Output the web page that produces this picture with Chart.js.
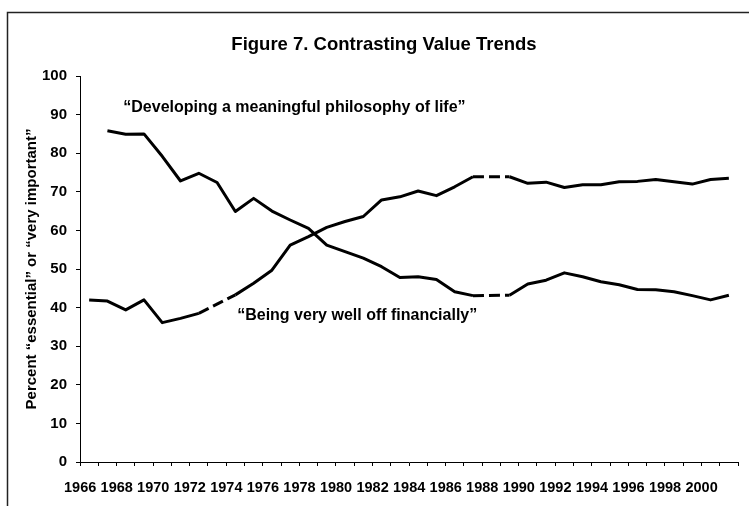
<!DOCTYPE html>
<html>
<head>
<meta charset="utf-8">
<script src="https://cdn.jsdelivr.net/npm/chart.js@4.4.1/dist/chart.umd.min.js"></script>
<style>
  html, body { margin: 0; padding: 0; background: #fff; }
  #wrap { position: relative; width: 749px; height: 506px; }
</style>
</head>
<body>
<div id="wrap"><canvas id="chart" width="749" height="506"></canvas></div>
<script>
const years = [
  1966, 1967, 1968, 1969, 1970, 1971, 1972, 1973, 1974, 1975, 1976, 1977,
  1978, 1979, 1980, 1981, 1982, 1983, 1984, 1985, 1986, 1987, 1988, 1989,
  1990, 1991, 1992, 1993, 1994, 1995, 1996, 1997, 1998, 1999, 2000, 2001,
];

const wellOff = [
  42.0, 41.7, 39.4, 42.0, 36.1, 37.2, 38.5, null, 43.3, 46.3, 49.7, 56.2,
  58.4, 60.8, 62.3, 63.6, 67.9, 68.7, 70.2, 69.0, 71.3, 73.9, null, 73.9,
  72.2, 72.5, 71.1, 71.8, 71.8, 72.6, 72.7, 73.2, 72.6, 72.0, 73.2, 73.5,
];

const philosophy = [
  null, 85.8, 84.9, 85.0, 79.2, 72.8, 74.8, 72.4, 64.9, 68.3, 65.0, 62.7,
  60.5, 56.2, 54.5, 52.8, 50.6, 47.8, 48.0, 47.3, 44.1, 43.1, null, 43.2,
  46.1, 47.1, 49.0, 48.0, 46.7, 45.9, 44.7, 44.6, 44.1, 43.1, 42.0, 43.2,
];

const chartTitle = "Figure 7. Contrasting Value Trends";
const yTitle = "Percent \u201cessential\u201d or \u201cvery important\u201d";
const notes = [
  { text: "\u201cDeveloping a meaningful philosophy of life\u201d", index: 1.87, value: 91.7 },
  { text: "\u201cBeing very well off financially\u201d", index: 8.1, value: 37.8 },
];

const FONT = '"Liberation Sans", Arial, Helvetica, sans-serif';
Chart.defaults.font.family = FONT;
Chart.defaults.color = "#000";

const dashGap = (ctx) => (ctx.p0.skip || ctx.p1.skip ? [11, 5] : undefined);

function lineStyle() {
  return {
    borderColor: "#000",
    borderWidth: 3,
    pointRadius: 0,
    tension: 0,
    spanGaps: true,
    borderJoinStyle: "round",
    segment: { borderDash: dashGap },
  };
}

// frame, title and the two in-plot captions
const decorations = {
  id: "decorations",
  beforeDraw(chart) {
    const { ctx } = chart;
    ctx.save();
    ctx.fillStyle = "#fff";
    ctx.fillRect(0, 0, chart.width, chart.height);
    ctx.strokeStyle = "#222";
    ctx.lineWidth = 1.5;
    ctx.beginPath();
    ctx.moveTo(7.5, chart.height);
    ctx.lineTo(7.5, 12.5);
    ctx.lineTo(chart.width, 12.5);
    ctx.stroke();
    ctx.restore();
  },
  afterDraw(chart) {
    const { ctx, scales } = chart;
    ctx.save();
    ctx.fillStyle = "#000";
    ctx.textBaseline = "middle";
    ctx.font = `bold 18.5px ${FONT}`;
    ctx.textAlign = "center";
    ctx.fillText(chartTitle, 384, 45);
    ctx.font = `bold 16px ${FONT}`;
    ctx.textAlign = "left";
    notes.forEach((n) => {
      ctx.fillText(n.text, scales.x.getPixelForValue(n.index), scales.y.getPixelForValue(n.value));
    });
    ctx.restore();
  },
};

new Chart(document.getElementById("chart").getContext("2d"), {
  type: "line",
  data: {
    labels: years,
    datasets: [
      { label: "Being very well off financially", data: wellOff, ...lineStyle() },
      { label: "Developing a meaningful philosophy of life", data: philosophy, ...lineStyle() },
    ],
  },
  options: {
    responsive: false,
    animation: false,
    layout: { padding: { left: 8, right: 11, top: 76, bottom: 0 } },
    plugins: {
      legend: { display: false },
      tooltip: { enabled: false },
      title: { display: false },
    },
    scales: {
      x: {
        type: "category",
        offset: true,
        grid: { offset: true, drawOnChartArea: false, drawTicks: true, tickLength: 4, color: "#000" },
        border: { color: "#000", width: 1 },
        ticks: {
          autoSkip: false,
          maxRotation: 0,
          minRotation: 0,
          labelOffset: -9,
          padding: 13,
          font: { size: 14.5, weight: "bold" },
          color: "#000",
          callback: (v, i) => (years[i] % 2 === 0 ? String(years[i]) : ""),
        },
        afterFit(scale) { scale.height = 44; },
      },
      y: {
        min: 0,
        max: 100,
        ticks: { stepSize: 10, padding: 9, font: { size: 15, weight: "bold" }, color: "#000" },
        grid: { drawOnChartArea: false, tickLength: 4, color: "#000" },
        border: { color: "#000", width: 1 },
        title: {
          display: true,
          text: yTitle,
          font: { size: 15, weight: "bold" },
          color: "#000",
          padding: { top: 15, bottom: 0 },
        },
        afterFit(scale) { scale.width = 72; },
      },
    },
  },
  plugins: [decorations],
});
</script>
</body>
</html>
